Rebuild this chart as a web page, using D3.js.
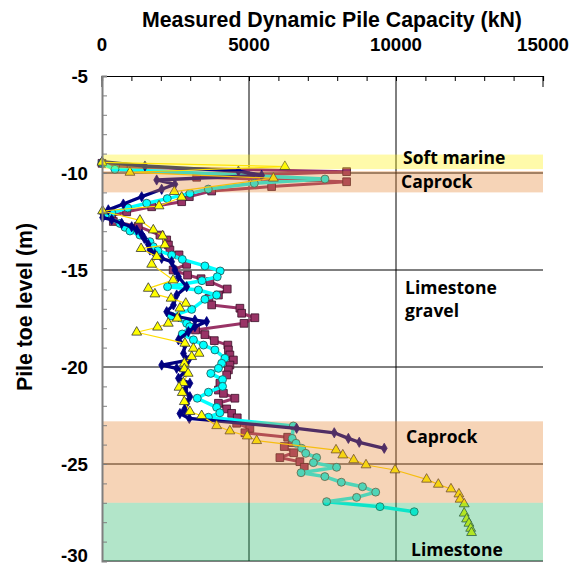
<!DOCTYPE html>
<html><head><meta charset="utf-8">
<script src="https://cdn.jsdelivr.net/npm/d3@7"></script>
<style>body{margin:0;background:#fff}svg{display:block}</style>
</head><body>
<svg id="chart" width="579" height="566"></svg>
<script>
// ---- data (capacity kN, pile toe level m) ----
const xTickValues = [0, 5000, 10000, 15000];
const yTickValues = [-5, -10, -15, -20, -25, -30];

const navyCapacity = [0,1460,4640,5430,1860,2480,2030,1350,725,215,0,20,330,670,1010,1180,1350,1440,1575,1630,1800,2030,2370,2480,2600,2880,2540,2430,2200,2600,3160,3560,3160,2940,2600,2820,2770,2940,2030,2540,2820,2600,2990,2820,2990,2880,2800,2650,2970,6620,7900,8380,8750,9600];
const navyLevel    = [-9.42,-9.64,-9.9,-10.12,-10.36,-10.58,-10.84,-11.22,-11.6,-11.9,-12.05,-12.3,-12.4,-12.6,-12.77,-12.94,-13.16,-13.37,-13.68,-13.97,-14.19,-14.4,-14.57,-15.0,-15.35,-15.86,-16.29,-16.8,-17.15,-17.41,-17.58,-17.66,-17.92,-18.18,-18.6,-18.87,-19.3,-19.64,-19.9,-20.07,-20.24,-20.58,-20.84,-21.19,-21.53,-21.87,-22.2,-22.4,-22.65,-23.16,-23.39,-23.68,-23.88,-24.19];

const maroonCapacity = [0,725,8320,3220,8320,5770,3730,2970,2710,1690,840,330,385,1235,1970,2200,2260,2310,2620,2880,2420,2910,3370,3670,4260,3960,3640,3730,4690,4750,5200,4830,3180,3500,3820,4280,4300,4350,4470,4350,4300,4240,4010,3960,4130,4520,3960,4240,4410,4600,4580,5030,4860,6315,6470,6200,6520,6050,6730,6880];
const maroonLevel    = [-9.5,-9.7,-9.93,-10.22,-10.45,-10.7,-10.93,-11.22,-11.48,-11.74,-12.0,-12.2,-12.5,-12.75,-13.2,-13.45,-13.71,-13.97,-14.22,-14.71,-15.0,-15.26,-15.45,-15.6,-15.98,-16.29,-16.46,-16.8,-16.97,-17.23,-17.46,-17.75,-18.09,-18.33,-18.64,-18.87,-19.12,-19.38,-19.64,-19.9,-20.15,-20.41,-20.84,-21.19,-21.36,-21.61,-21.87,-22.16,-22.39,-22.62,-22.9,-23.16,-23.39,-23.62,-23.9,-24.1,-24.42,-24.67,-24.88,-25.17];

const cyanCapacity = [0,440,7585,5180,3615,2990,2220,1520,875,330,100,610,780,950,1290,1630,1745,1900,2370,2730,3500,4020,3920,3400,2230,3280,3900,3500,3050,2350,2880,2990,2730,3110,3450,3840,4180,4070,3960,3700,4100,4100,3620,3240,3900,4010,3620,6507,6470,6600,6790,6930,7300,7190,7980,6770,7580,8140,8860,9310,8660,7640,9455,10620];
const cyanLevel    = [-9.5,-9.81,-10.31,-10.53,-10.83,-11.05,-11.32,-11.56,-11.8,-12.05,-12.2,-12.6,-12.8,-12.99,-13.2,-13.54,-13.8,-14.0,-14.23,-14.45,-14.79,-15.05,-15.35,-15.55,-15.86,-16.03,-16.29,-16.51,-17.03,-17.37,-17.75,-17.92,-18.3,-18.6,-18.87,-19.12,-19.55,-19.81,-20.07,-20.33,-20.65,-21.0,-21.3,-21.61,-22.08,-22.36,-22.59,-23.04,-23.68,-23.93,-24.19,-24.45,-24.67,-24.93,-25.17,-25.45,-25.65,-25.94,-26.17,-26.45,-26.72,-26.94,-27.2,-27.46];

const yellowCapacity = [0,6220,950,5830,2460,2710,1940,20,1290,1745,2060,2140,1330,1860,1690,2420,1575,1800,2350,2850,2650,2560,2255,1890,1180,2820,3106,3300,3050,2800,2800,2930,2765,2620,2730,2800,2990,3390,3900,4350,4940,5260,7960,8190,8560,8980,9965,11040,11440,11870,12140,12180,12320,12320,12400,12480,12540,12570];
const yellowLevel    = [-9.45,-9.67,-9.97,-10.27,-10.96,-11.25,-11.7,-11.96,-12.44,-12.94,-13.25,-13.71,-13.9,-14.31,-14.71,-15.52,-15.95,-16.24,-16.46,-16.72,-16.97,-17.49,-17.75,-17.95,-18.21,-18.78,-19.04,-19.3,-19.47,-19.81,-20.1,-20.33,-20.81,-21.05,-21.32,-21.79,-22.3,-22.51,-23.03,-23.3,-23.56,-23.8,-24.28,-24.54,-24.79,-25.05,-25.31,-25.79,-26.05,-26.29,-26.55,-26.82,-27.06,-27.54,-27.84,-28.06,-28.32,-28.54];

const bandNames  = ["Soft marine", "Caprock", "Caprock", "Limestone"];
const bandTop    = [-9.05, -9.9, -22.8, -27.0];
const bandBottom = [-9.8, -11.0, -27.0, -30.0];

// ---- layout ----
const svg = d3.select("#chart");
const x = d3.scaleLinear().domain([0, 15000]).range([102, 543]);
const y = d3.scaleLinear().domain([-5, -30]).range([76, 561]);

// grid lines
const grid = svg.append("g");
grid.selectAll("line.v").data([5000, 10000]).join("line")
  .attr("x1", d => x(d)).attr("x2", d => x(d)).attr("y1", y(-5)).attr("y2", y(-30))
  .attr("stroke", "#000").attr("stroke-width", 1);
grid.selectAll("line.h").data([-10, -15, -20, -25, -30]).join("line")
  .attr("x1", x(0)).attr("x2", x(15000)).attr("y1", d => y(d)).attr("y2", d => y(d))
  .attr("stroke", "#000").attr("stroke-width", 1);

// series
function series(xs, ys) { return xs.map((v, i) => [v, ys[i]]); }
const line = d3.line().x(d => x(d[0])).y(d => y(d[1]));
const dataG = svg.append("g");

function drawSeries(data, color, width, symType, size, fill, stroke) {
  const g = dataG.append("g");
  g.append("path").datum(data).attr("d", line).attr("fill", "none")
    .attr("stroke", color).attr("stroke-width", width).attr("stroke-linejoin", "round");
  g.selectAll("path.m").data(data).join("path")
    .attr("transform", d => `translate(${x(d[0])},${y(d[1])})`)
    .attr("d", d3.symbol().type(symType).size(size))
    .attr("fill", fill).attr("stroke", stroke).attr("stroke-width", 0.8);
}
drawSeries(series(maroonCapacity, maroonLevel), "#993366", 3, d3.symbolSquare, 60, "#993366", "#3a1028");
drawSeries(series(cyanCapacity, cyanLevel), "#00FFFF", 3.5, d3.symbolCircle, 50, "#00FFFF", "#1f4f4f");
drawSeries(series(navyCapacity, navyLevel), "#000080", 3.3, d3.symbolDiamond, 30, "#000080", "#000080");
drawSeries(series(yellowCapacity, yellowLevel), "#FFDD00", 1.2, d3.symbolTriangle, 42, "#FFFF00", "#333");

// translucent bands on top
const bandFill = ["#FFF10C", "#E58431", "#E58431", "#23B565"];
svg.append("g").selectAll("rect").data(bandTop).join("rect")
  .attr("x", x(0)).attr("width", x(15000) - x(0))
  .attr("y", d => y(d)).attr("height", (d, i) => y(bandBottom[i]) - y(d))
  .attr("fill", (d, i) => bandFill[i]).attr("opacity", 0.35);

// axes
const axisG = svg.append("g");
axisG.append("g").attr("transform", `translate(0,${y(-5)})`)
  .call(d3.axisBottom(x).tickValues(d3.range(0, 15001, 1000)).tickSize(5).tickFormat(""))
  .call(g => g.select(".domain").attr("stroke", "#000").attr("stroke-width", 1.2))
  .call(g => g.selectAll(".tick line").attr("stroke", "#000"));
axisG.append("g").selectAll("line").data([0, 15000]).join("line")
  .attr("x1", d => x(d)).attr("x2", d => x(d)).attr("y1", y(-5)).attr("y2", y(-5) + 11)
  .attr("stroke", "#000");
axisG.append("g").attr("transform", `translate(${x(0)},0)`)
  .call(d3.axisRight(y).tickValues(d3.range(-5, -30.01, -1)).tickSize(5).tickFormat(""))
  .call(g => g.select(".domain").attr("stroke", "#7f7f7f").attr("stroke-width", 2))
  .call(g => g.selectAll(".tick line").attr("stroke", "#7f7f7f"));

// tick labels
const labelFont = "'Liberation Sans', Arial, sans-serif";
axisG.append("g").selectAll("text").data(xTickValues).join("text")
  .attr("x", d => x(d)).attr("y", 51).attr("text-anchor", "middle")
  .attr("font-family", labelFont).attr("font-weight", "bold").attr("font-size", 18.7)
  .text(d => d);
axisG.append("g").selectAll("text").data(yTickValues).join("text")
  .attr("x", 88).attr("y", d => Math.min(y(d), 555)).attr("dy", "0.35em").attr("text-anchor", "end")
  .attr("font-family", labelFont).attr("font-weight", "bold").attr("font-size", 18.7)
  .text(d => d);

// titles
svg.append("text").attr("x", 332).attr("y", 27).attr("text-anchor", "middle")
  .attr("font-family", labelFont).attr("font-weight", "bold").attr("font-size", 21.3)
  .text("Measured Dynamic Pile Capacity (kN)");
svg.append("text").attr("transform", `translate(32,307) rotate(-90)`).attr("text-anchor", "middle")
  .attr("font-family", labelFont).attr("font-weight", "bold").attr("font-size", 21.3)
  .text("Pile toe level (m)");

// band labels
const bandFont = "'Open Sans', Lato, sans-serif";
const bandLabels = [
  {t: "Soft marine", x: 403, y: 164},
  {t: "Caprock", x: 401, y: 188},
  {t: "Limestone", x: 405, y: 294},
  {t: "gravel", x: 405, y: 317},
  {t: "Caprock", x: 406, y: 443},
  {t: "Limestone", x: 411, y: 556}
];
svg.append("g").selectAll("text").data(bandLabels).join("text")
  .attr("x", d => d.x).attr("y", d => d.y)
  .attr("font-family", bandFont).attr("font-weight", "bold").attr("font-size", 17.5)
  .attr("fill", "#000").text(d => d.t);
</script>
</body></html>
